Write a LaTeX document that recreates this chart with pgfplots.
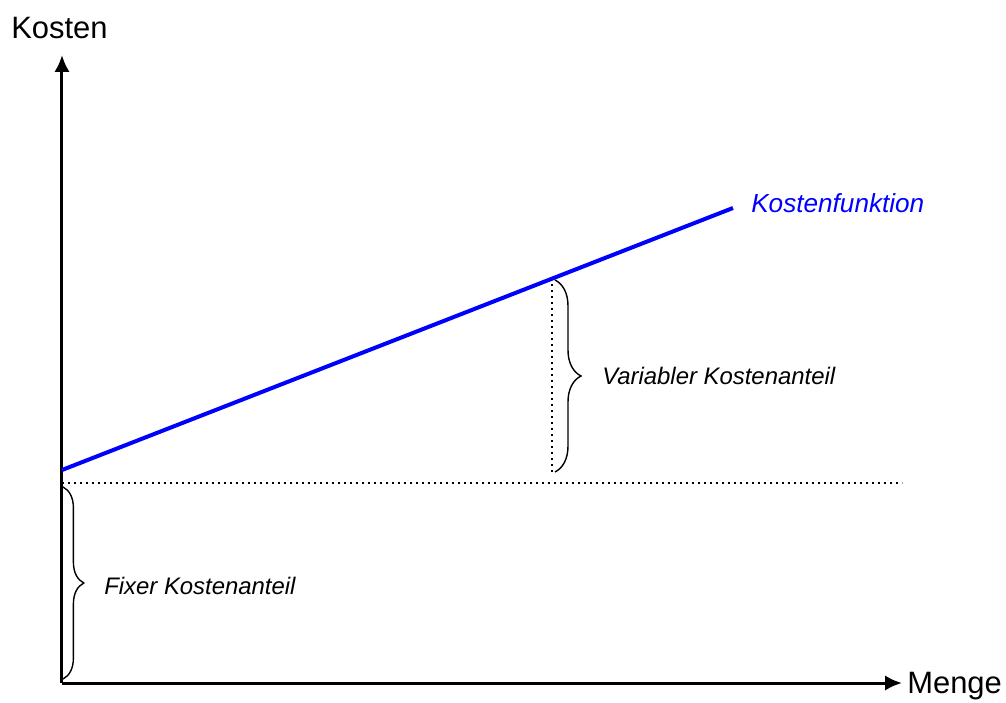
\documentclass[border=0pt]{standalone}
\usepackage{pgfplots}
\pgfplotsset{compat=1.18}
\usepackage{fontspec}
\setmainfont{Liberation Sans}
\usetikzlibrary{arrows.meta,decorations.pathreplacing}

\begin{document}
\begin{tikzpicture}
\begin{axis}[
  scale only axis,
  width=210mm, height=157mm,
  xmin=0, xmax=840, ymin=0, ymax=628,
  axis lines=left,
  axis line style={line width=0.75mm, -{Latex[length=4.2mm,width=3.8mm]}},
  xtick=\empty, ytick=\empty,
  clip=false,
]
  % Kostenfunktion
  \addplot[blue, line width=1mm] coordinates {(0,213) (671,475)};
  % Fixkostenniveau und variabler Anteil
  \addplot[black, line width=0.55mm, dash pattern=on 0.5mm off 1mm] coordinates {(0,200) (840,200)};
  \addplot[black, line width=0.55mm, dash pattern=on 0.5mm off 1mm] coordinates {(490,211) (490,403)};

  \draw[line width=0.35mm, decorate, decoration={brace, amplitude=6.5mm}]
    (axis cs:493,403) -- (axis cs:493,211);
  \draw[line width=0.35mm, decorate, decoration={brace, amplitude=5.2mm}]
    (axis cs:1,196) -- (axis cs:1,4);

  \node[anchor=base west, inner sep=0pt, font=\fontsize{17}{20}\selectfont\itshape]
    at (axis cs:540,298) {Variabler Kostenanteil};
  \node[anchor=base west, inner sep=0pt, font=\fontsize{17}{20}\selectfont\itshape]
    at (axis cs:42,89) {Fixer Kostenanteil};
  \node[anchor=base west, inner sep=0pt, text=blue, font=\fontsize{18.6}{22}\selectfont\itshape]
    at (axis cs:689,470) {Kostenfunktion};
  \node[anchor=base west, inner sep=0pt, font=\fontsize{22}{26}\selectfont]
    at (axis cs:-51,644) {Kosten};
  \node[anchor=base west, inner sep=0pt, font=\fontsize{22}{26}\selectfont]
    at (axis cs:845,-10) {Menge};

  \path[use as bounding box] (axis cs:-62,-19) rectangle (axis cs:944,683);
\end{axis}
\end{tikzpicture}
\end{document}
